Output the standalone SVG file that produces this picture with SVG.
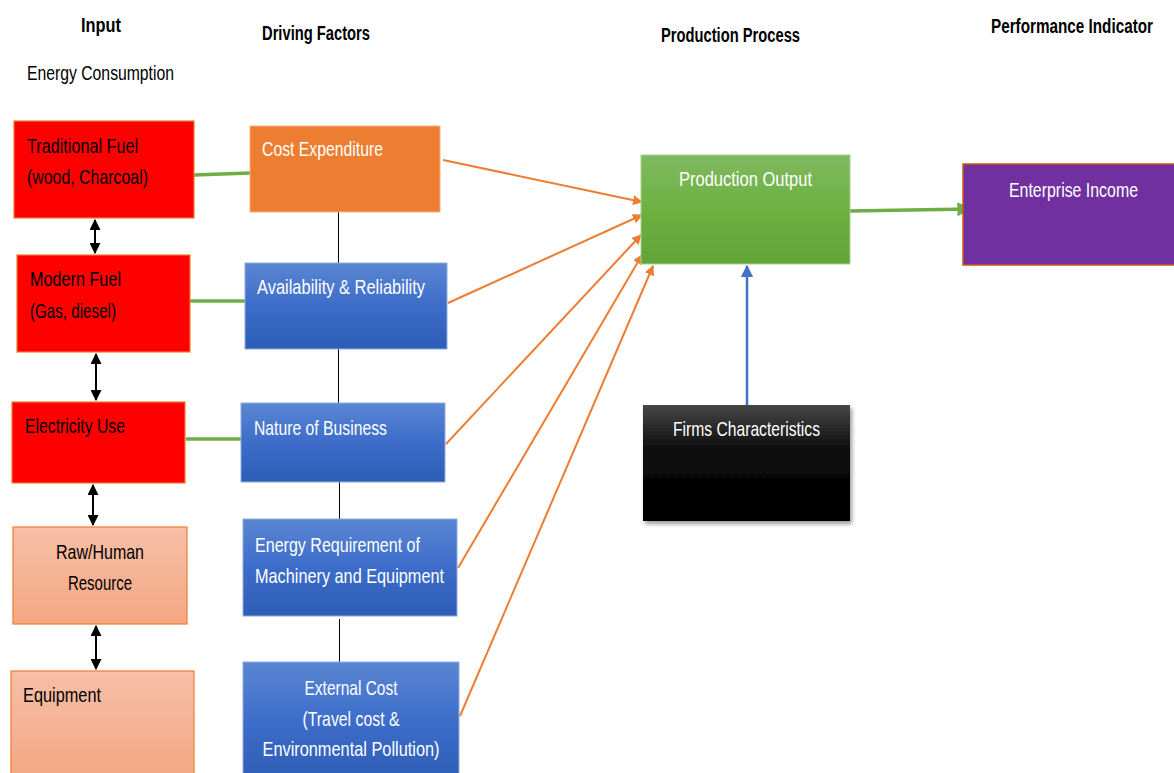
<svg xmlns="http://www.w3.org/2000/svg" width="1174" height="773" viewBox="0 0 1174 773">
<defs>
<style>
text{font-family:"Liberation Sans",Arial,sans-serif;font-size:21px}
.h{font-weight:bold;font-size:20px;fill:#000}
.d{fill:#000}
.w{fill:#fff}
.red{fill:#FF0000;stroke:#ED7D31;stroke-width:1.2}
.sal{fill:url(#gSal);stroke:#ED7D31;stroke-width:1.2}
.blue{fill:url(#gBlue);stroke:#8FAADC;stroke-width:1}
.gl{stroke:#70AD47;stroke-width:3.5;fill:none}
.bk{stroke:#000;stroke-width:2;fill:none;marker-start:url(#ab);marker-end:url(#ab)}
.thin{stroke:#000;stroke-width:1;fill:none}
.or{stroke:#ED7D31;stroke-width:2;fill:none;marker-end:url(#ao)}
</style>
<linearGradient id="gSal" x1="0" y1="0" x2="0" y2="1"><stop offset="0" stop-color="#F6BFA6"/><stop offset="1" stop-color="#F4A783"/></linearGradient>
<linearGradient id="gBlue" x1="0" y1="0" x2="0" y2="1"><stop offset="0" stop-color="#5A86D2"/><stop offset="0.5" stop-color="#3D6DCA"/><stop offset="1" stop-color="#2E5DB5"/></linearGradient>
<linearGradient id="gGreen" x1="0" y1="0" x2="0" y2="1"><stop offset="0" stop-color="#81BA62"/><stop offset="0.5" stop-color="#6CB040"/><stop offset="1" stop-color="#62A437"/></linearGradient>
<linearGradient id="gBlack" x1="0" y1="0" x2="0" y2="1"><stop offset="0" stop-color="#474747"/><stop offset="0.4" stop-color="#0a0a0a"/><stop offset="1" stop-color="#000"/></linearGradient>
<filter id="sh" x="-10%" y="-10%" width="130%" height="130%"><feDropShadow dx="2" dy="3" stdDeviation="2" flood-color="#000" flood-opacity="0.4"/></filter>
<marker id="ab" viewBox="0 0 10 10" refX="9" refY="5" markerWidth="5.5" markerHeight="5.5" orient="auto-start-reverse"><path d="M0,0 L10,5 L0,10 z" fill="#000"/></marker>
<marker id="ao" viewBox="0 0 10 10" refX="9" refY="5" markerWidth="5" markerHeight="5" orient="auto"><path d="M0,0 L10,5 L0,10 z" fill="#ED7D31"/></marker>
<marker id="ablue" viewBox="0 0 10 10" refX="9" refY="5" markerWidth="5" markerHeight="5" orient="auto"><path d="M0,0 L10,5 L0,10 z" fill="#4472C4"/></marker>
<marker id="agreen" viewBox="0 0 10 10" refX="9" refY="5" markerWidth="4" markerHeight="4" orient="auto"><path d="M0,0 L10,5 L0,10 z" fill="#70AD47"/></marker>
</defs>
<rect width="1174" height="773" fill="#fff"/>

<g id="headers">
<text class="h" x="101" y="32" text-anchor="middle" textLength="40" lengthAdjust="spacingAndGlyphs">Input</text>
<text class="h" x="262" y="40" textLength="108" lengthAdjust="spacingAndGlyphs">Driving Factors</text>
<text class="h" x="661" y="42" textLength="139" lengthAdjust="spacingAndGlyphs">Production Process</text>
<text class="h" x="1153" y="33" text-anchor="end" textLength="162" lengthAdjust="spacingAndGlyphs">Performance Indicator</text>
<text class="d" x="27" y="80" font-size="20" textLength="147" lengthAdjust="spacingAndGlyphs">Energy Consumption</text>
</g>

<g id="connectors">
<line class="gl" x1="194" y1="175" x2="250" y2="173"/>
<line class="gl" x1="190" y1="301" x2="245" y2="301"/>
<line class="gl" x1="186" y1="439" x2="244" y2="439"/>
<line class="bk" x1="95" y1="220" x2="95" y2="253"/>
<line class="bk" x1="96" y1="354" x2="96" y2="400"/>
<line class="bk" x1="93" y1="485" x2="93" y2="525"/>
<line class="bk" x1="96" y1="626" x2="96" y2="669"/>
<line class="thin" x1="338.5" y1="212" x2="338.5" y2="263"/>
<line class="thin" x1="338.5" y1="349" x2="338.5" y2="403"/>
<line class="thin" x1="339.5" y1="482" x2="339.5" y2="519"/>
<line class="thin" x1="339.5" y1="619" x2="339.5" y2="662"/>
<line class="or" x1="443" y1="160" x2="642" y2="202"/>
<line class="or" x1="448" y1="303" x2="642" y2="215"/>
<line class="or" x1="446" y1="444" x2="641" y2="235"/>
<line class="or" x1="458" y1="568" x2="642" y2="255"/>
<line class="or" x1="460" y1="716" x2="653" y2="266"/>
<line x1="747" y1="405" x2="747" y2="266" stroke="#4472C4" stroke-width="2.5" marker-end="url(#ablue)"/>
<line x1="850" y1="211" x2="970" y2="209" stroke="#70AD47" stroke-width="3.5" marker-end="url(#agreen)"/>
</g>

<g id="traditional-fuel">
<rect class="red" x="14" y="121" width="180" height="97"/>
<text class="d" x="27" y="153" textLength="111" lengthAdjust="spacingAndGlyphs">Traditional Fuel</text>
<text class="d" x="27" y="184" textLength="121" lengthAdjust="spacingAndGlyphs">(wood, Charcoal)</text>
</g>
<g id="modern-fuel">
<rect class="red" x="17" y="255" width="173" height="97"/>
<text class="d" x="30" y="286" textLength="91" lengthAdjust="spacingAndGlyphs">Modern Fuel</text>
<text class="d" x="30" y="318" textLength="86" lengthAdjust="spacingAndGlyphs">(Gas, diesel)</text>
</g>
<g id="electricity-use">
<rect class="red" x="12" y="402" width="173" height="81"/>
<text class="d" x="25" y="433" textLength="100" lengthAdjust="spacingAndGlyphs">Electricity Use</text>
</g>
<g id="raw-human-resource">
<rect class="sal" x="13" y="527" width="174" height="97"/>
<text class="d" x="100" y="559" text-anchor="middle" textLength="88" lengthAdjust="spacingAndGlyphs">Raw/Human</text>
<text class="d" x="100" y="590" text-anchor="middle" textLength="64" lengthAdjust="spacingAndGlyphs">Resource</text>
</g>
<g id="equipment">
<rect class="sal" x="11" y="671" width="183" height="110"/>
<text class="d" x="23" y="702" textLength="78" lengthAdjust="spacingAndGlyphs">Equipment</text>
</g>

<g id="cost-expenditure">
<rect x="250" y="126" width="190" height="86" fill="#ED7D31" stroke="#F4B183" stroke-width="1"/>
<text class="w" x="262" y="156" textLength="121" lengthAdjust="spacingAndGlyphs">Cost Expenditure</text>
</g>
<g id="availability-reliability">
<rect class="blue" x="245" y="263" width="202" height="86"/>
<text class="w" x="257" y="294" textLength="168" lengthAdjust="spacingAndGlyphs">Availability &amp; Reliability</text>
</g>
<g id="nature-of-business">
<rect class="blue" x="241" y="403" width="204" height="79"/>
<text class="w" x="254" y="435" textLength="133" lengthAdjust="spacingAndGlyphs">Nature of Business</text>
</g>
<g id="energy-requirement">
<rect class="blue" x="243" y="519" width="214" height="97"/>
<text class="w" x="255" y="552" textLength="165" lengthAdjust="spacingAndGlyphs">Energy Requirement of</text>
<text class="w" x="255" y="583" textLength="189" lengthAdjust="spacingAndGlyphs">Machinery and Equipment</text>
</g>
<g id="external-cost">
<rect class="blue" x="243" y="662" width="216" height="120"/>
<text class="w" x="351" y="695" text-anchor="middle" textLength="93" lengthAdjust="spacingAndGlyphs">External Cost</text>
<text class="w" x="351" y="726" text-anchor="middle" textLength="97" lengthAdjust="spacingAndGlyphs">(Travel cost &amp;</text>
<text class="w" x="351" y="756" text-anchor="middle" textLength="177" lengthAdjust="spacingAndGlyphs">Environmental Pollution)</text>
</g>

<g id="production-output">
<rect x="641" y="155" width="209" height="109" fill="url(#gGreen)" stroke="#A9D18E" stroke-width="1"/>
<text class="w" x="679" y="186" textLength="133" lengthAdjust="spacingAndGlyphs">Production Output</text>
</g>
<g id="firms-characteristics">
<rect x="643" y="405" width="207" height="116" fill="url(#gBlack)" filter="url(#sh)"/>
<text class="w" x="673" y="436" textLength="147" lengthAdjust="spacingAndGlyphs">Firms Characteristics</text>
</g>
<g id="enterprise-income">
<rect x="963" y="164" width="212" height="101" fill="#7030A0" stroke="#C55A11" stroke-width="1.5"/>
<text class="w" x="1073.5" y="197" text-anchor="middle" textLength="129" lengthAdjust="spacingAndGlyphs">Enterprise Income</text>
</g>
</svg>
